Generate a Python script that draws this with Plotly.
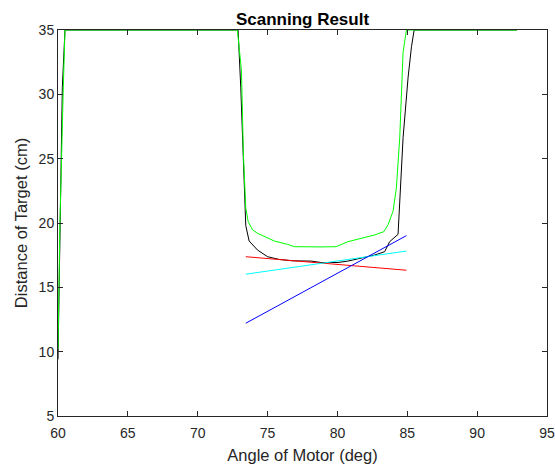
import plotly.graph_objects as go

# Black: measured scan
black_angle = [60.0, 60.31, 60.5, 72.89, 73.08, 73.32, 73.44, 73.68, 74.28, 75.0, 75.83, 76.79, 78.11,
               78.83, 80.03, 80.75, 81.7, 82.66, 83.38, 83.74, 84.34, 84.70, 85.06, 85.30, 85.49, 92.85]
black_dist = [9.4, 30.56, 35.0, 35.0, 30.56, 24.03, 19.80, 18.60, 17.90, 17.38, 17.17, 17.06, 17.04,
              16.93, 16.93, 17.04, 17.30, 17.51, 17.77, 18.55, 19.12, 26.64, 31.34, 33.7, 35.0, 35.0]

# Green: second scan
green_angle = [60.0, 60.14, 60.38, 60.5, 72.84, 73.13, 73.27, 73.44, 73.61, 73.92, 74.28, 74.76, 75.48,
               76.43, 76.91, 78.83, 79.91, 80.75, 81.7, 82.66, 83.33, 83.62, 83.98, 84.22, 84.46, 84.70,
               84.94, 92.85]
green_dist = [10.2, 20.1, 30.56, 35.0, 35.0, 31.87, 25.34, 21.16, 20.12, 19.47, 19.2, 18.94, 18.6,
              18.34, 18.16, 18.14, 18.16, 18.55, 18.81, 19.07, 19.33, 19.86, 20.9, 22.73, 26.64, 33.3,
              35.0, 35.0]

# Fitted lines
fit_angle = [73.44, 84.94]
red_dist = [17.38, 16.33]
cyan_dist = [16.02, 17.82]
blue_dist = [12.21, 19.02]

x_ticks = [60, 65, 70, 75, 80, 85, 90, 95]
y_ticks = [5, 10, 15, 20, 25, 30, 35]

FONT = "Liberation Sans, Arial"

fig = go.Figure()
fig.add_trace(go.Scatter(x=black_angle, y=black_dist, mode="lines", line=dict(color="black", width=1)))
fig.add_trace(go.Scatter(x=green_angle, y=green_dist, mode="lines", line=dict(color="#00FF00", width=1)))
fig.add_trace(go.Scatter(x=fit_angle, y=red_dist, mode="lines", line=dict(color="#FF0000", width=1)))
fig.add_trace(go.Scatter(x=fit_angle, y=cyan_dist, mode="lines", line=dict(color="#00FFFF", width=1)))
fig.add_trace(go.Scatter(x=fit_angle, y=blue_dist, mode="lines", line=dict(color="#0000FF", width=1)))

axis_common = dict(showgrid=False, zeroline=False, showline=True, linecolor="#262626", linewidth=1,
                   mirror="ticks", ticks="inside", ticklen=5, tickcolor="#262626", automargin=False,
                   tickfont=dict(family=FONT, size=14, color="#262626"))

fig.update_layout(
    width=555, height=468,
    margin=dict(l=58, r=8, t=30, b=52),
    paper_bgcolor="white", plot_bgcolor="white",
    showlegend=False,
    title=dict(text="<b>Scanning Result</b>", x=0.5, xref="paper", xanchor="center",
               y=1, yref="paper", yanchor="bottom", pad=dict(b=5),
               font=dict(family=FONT, size=17, color="black")),
    xaxis=dict(range=[60, 95], tickvals=x_ticks, ticktext=[str(v) for v in x_ticks],
               ticklabelstandoff=4,
               title=dict(text="Angle of Motor (deg)", standoff=9,
                          font=dict(family=FONT, size=16.5, color="#262626")),
               **axis_common),
    yaxis=dict(range=[5, 35], tickvals=y_ticks, ticktext=[str(v) for v in y_ticks],
               title=dict(text="Distance of Target (cm)", standoff=6,
                          font=dict(family=FONT, size=16.5, color="#262626")),
               **axis_common),
)

fig.write_html("out.html")
